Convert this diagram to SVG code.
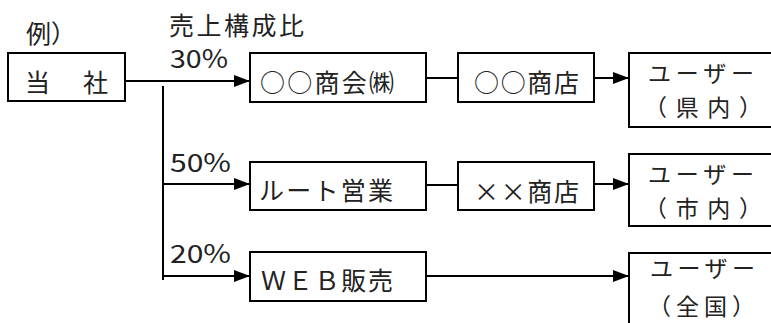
<svg xmlns="http://www.w3.org/2000/svg" width="771" height="323" viewBox="0 0 771 323">
<style>
.box{fill:#fff;stroke:#000;stroke-width:2}
.ln{fill:none;stroke:#000;stroke-width:2}
text{font-family:"Noto Sans CJK JP","Noto Sans",sans-serif;font-size:25px;fill:#222}
.u{font-size:23px}
</style>
<defs>
<marker id="ah" viewBox="0 0 16 12" refX="16" refY="6" markerWidth="16" markerHeight="12" markerUnits="userSpaceOnUse" orient="auto">
<path d="M0,0 L16,6 L0,12 Z" fill="#000"/>
</marker>
</defs>
<rect width="771" height="323" fill="#fff"/>
<text x="26" y="43">例）</text>
<text x="169" y="35" textLength="135" lengthAdjust="spacing">売上構成比</text>
<text x="170" y="68" textLength="58" lengthAdjust="spacingAndGlyphs">30%</text>
<text x="170" y="172" textLength="61" lengthAdjust="spacingAndGlyphs">50%</text>
<text x="170" y="263" textLength="61" lengthAdjust="spacingAndGlyphs">20%</text>
<g id="connectors">
<line class="ln" x1="125" y1="81" x2="250" y2="81" marker-end="url(#ah)"/>
<line class="ln" x1="163" y1="86" x2="163" y2="280"/>
<line class="ln" x1="163" y1="184" x2="250" y2="184" marker-end="url(#ah)"/>
<line class="ln" x1="163" y1="276" x2="250" y2="276" marker-end="url(#ah)"/>
<line class="ln" x1="426" y1="78" x2="458" y2="78"/>
<line class="ln" x1="594" y1="78" x2="629" y2="78" marker-end="url(#ah)"/>
<line class="ln" x1="426" y1="185" x2="458" y2="185"/>
<line class="ln" x1="594" y1="184" x2="629" y2="184" marker-end="url(#ah)"/>
<line class="ln" x1="426" y1="276" x2="629" y2="276" marker-end="url(#ah)"/>
</g>
<g id="tousha">
<rect class="box" x="8" y="53" width="117" height="48"/>
<text x="25" y="92">当</text>
<text x="83" y="92">社</text>
</g>
<g id="shokai">
<rect class="box" x="250" y="53" width="176" height="49"/>
<text x="260" y="92" textLength="134" lengthAdjust="spacing">○○商会㈱</text>
</g>
<g id="shoten1">
<rect class="box" x="458" y="53" width="136" height="49"/>
<text x="474" y="92" textLength="105" lengthAdjust="spacing">○○商店</text>
</g>
<g id="user1">
<rect class="box" x="629" y="53" width="150" height="74"/>
<text class="u" x="648" y="82" textLength="106" lengthAdjust="spacing">ユーザー</text>
<text class="u" x="644" y="116" textLength="118" lengthAdjust="spacing">（県内）</text>
</g>
<g id="route">
<rect class="box" x="250" y="162" width="176" height="48"/>
<text x="259" y="200" textLength="134" lengthAdjust="spacing">ルート営業</text>
</g>
<g id="shoten2">
<rect class="box" x="458" y="162" width="136" height="48"/>
<text x="474" y="201" textLength="105" lengthAdjust="spacing">××商店</text>
</g>
<g id="user2">
<rect class="box" x="629" y="154" width="150" height="72"/>
<text class="u" x="648" y="183" textLength="106" lengthAdjust="spacing">ユーザー</text>
<text class="u" x="644" y="217" textLength="118" lengthAdjust="spacing">（市内）</text>
</g>
<g id="web">
<rect class="box" x="250" y="252" width="176" height="49"/>
<text x="261" y="290" textLength="132" lengthAdjust="spacing">ＷＥＢ販売</text>
</g>
<g id="user3">
<rect class="box" x="629" y="253" width="150" height="80"/>
<text class="u" x="650" y="277" textLength="105" lengthAdjust="spacing">ユーザー</text>
<text class="u" x="648" y="315" textLength="107" lengthAdjust="spacing">（全国）</text>
</g>
</svg>
